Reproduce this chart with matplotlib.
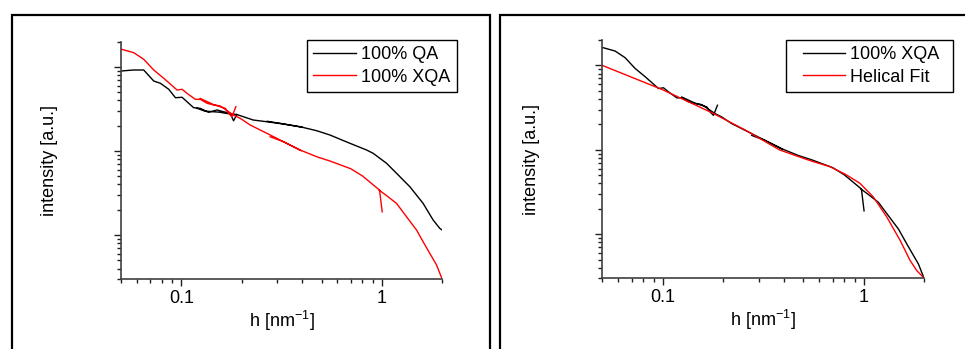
import matplotlib
matplotlib.use("Agg")
import matplotlib.pyplot as plt
from matplotlib import ticker
from matplotlib.patches import Rectangle

plt.rcParams["font.family"] = ["Liberation Sans", "DejaVu Sans"]
plt.rcParams["mathtext.default"] = "regular"
plt.rcParams["font.size"] = 13

GAP = float("nan")

# Scattering curves, stitched from several detector ranges; GAP separates
# the ranges, which overlap a little in h.
qa_h = [0.050, 0.0577, 0.0649, 0.0728, 0.0786, 0.0865, 0.0934, 0.1008,
        0.1151, 0.1243, 0.1363, 0.1505, 0.1618, 0.1753, 0.182, 0.189, GAP,
        0.120, 0.130, 0.142, 0.155, 0.168, 0.189, 0.228, 0.267, 0.322, 0.400, GAP,
        0.268, 0.322, 0.391, 0.473, 0.551, 0.693, 0.839, 0.905, 1.055,
        1.183, 1.378, 1.605, 1.80, 1.944, 1.995]
qa_i = [0.896, 0.921, 0.921, 0.681, 0.640, 0.543, 0.431, 0.436,
        0.328, 0.322, 0.289, 0.308, 0.294, 0.281, 0.229, 0.272, GAP,
        0.322, 0.300, 0.294, 0.290, 0.280, 0.272, 0.234, 0.223, 0.2097, 0.192, GAP,
        0.226, 0.2105, 0.1945, 0.1745, 0.155, 0.1235, 0.1028, 0.0938, 0.0714,
        0.0543, 0.0376, 0.0238, 0.0151, 0.0120, 0.0115]

xqa_h = [0.0503, 0.0579, 0.0649, 0.0728, 0.0817, 0.0952, 0.1008, 0.1067,
         0.1174, 0.1243, 0.1342, 0.1505, 0.1656, 0.1719, 0.1787, 0.187, GAP,
         0.1243, 0.1342, 0.1448, 0.1563, 0.1688, 0.182, 0.1965, 0.2204,
         0.267, 0.323, 0.395, GAP,
         0.277, 0.323, 0.391, 0.473, 0.551, 0.600, 0.700, 0.800, 0.900,
         0.973, 1.003, GAP,
         0.965, 1.05, 1.183, 1.30, 1.488, 1.62, 1.733, 1.87, 1.995]
xqa_i = [1.625, 1.48, 1.235, 0.921, 0.734, 0.532, 0.543, 0.486,
         0.4125, 0.4125, 0.370, 0.346, 0.322, 0.281, 0.256, 0.337, GAP,
         0.422, 0.388, 0.356, 0.343, 0.303, 0.268, 0.245, 0.204,
         0.1624, 0.129, 0.101, GAP,
         0.148, 0.129, 0.1028, 0.0855, 0.0760, 0.0705, 0.0615, 0.0505, 0.0400,
         0.0343, 0.0189, GAP,
         0.0345, 0.0297, 0.0238, 0.0176, 0.01148, 0.0080, 0.00605, 0.00443, 0.0030]

fit_h = [0.05, 0.0992, 0.1764, 0.259, 0.380, 0.461, 0.558, 0.676, 0.820,
         0.955, 1.113, 1.299, 1.514, 1.698, 1.835, 2.0]
fit_i = [1.0, 0.518, 0.2735, 0.1698, 0.100, 0.0848, 0.0726, 0.0633, 0.0504,
         0.0402, 0.0278, 0.0161, 0.0085, 0.0049, 0.0037, 0.003]

h_ticks = [0.1, 1]
h_tick_labels = ["0.1", "1"]

W, H = 965, 349
RED = "#ff0000"


def fx(px):
    return px / W


def fy(py):
    return 1 - py / H


def style_axis(ax):
    ax.set_xscale("log")
    ax.set_yscale("log")
    ax.set_xlim(0.05, 2)
    ax.set_ylim(0.003, 2)
    for side in ("top", "right"):
        ax.spines[side].set_visible(False)
    for side in ("left", "bottom"):
        ax.spines[side].set_linewidth(1.2)
        ax.spines[side].set_color("#404040")
    ax.xaxis.set_major_locator(ticker.FixedLocator(h_ticks))
    ax.xaxis.set_major_formatter(ticker.FixedFormatter(h_tick_labels))
    ax.xaxis.set_minor_locator(ticker.LogLocator(base=10, subs=range(2, 10)))
    ax.xaxis.set_minor_formatter(ticker.NullFormatter())
    ax.yaxis.set_major_locator(ticker.LogLocator(base=10))
    ax.yaxis.set_minor_locator(ticker.LogLocator(base=10, subs=range(2, 10)))
    ax.yaxis.set_major_formatter(ticker.NullFormatter())
    ax.yaxis.set_minor_formatter(ticker.NullFormatter())
    ax.tick_params(which="major", length=5, width=1, direction="out",
                   color="#202020", labelsize=13, pad=3)
    ax.tick_params(which="minor", length=3, width=1, direction="out",
                   color="#202020")
    ax.set_xlabel("h [nm$^{-1}$]", labelpad=1)
    ax.set_ylabel("intensity [a.u.]", labelpad=37)


def add_legend(ax, right_px, top_px, frame_box=None):
    leg = ax.legend(loc="upper right",
                    bbox_to_anchor=(fx(right_px), fy(top_px)),
                    bbox_transform=ax.figure.transFigure,
                    frameon=frame_box is None, fancybox=False, shadow=False,
                    edgecolor="black", framealpha=1, borderaxespad=0,
                    handlelength=2.35, handletextpad=0.3, borderpad=0.35,
                    labelspacing=0.3, fontsize=13)
    leg.get_frame().set_linewidth(1.0)
    if frame_box is not None:
        # wider frame than the legend's own padding would give
        x0, y0, x1, y1 = frame_box
        ax.figure.patches.append(
            Rectangle((fx(x0), fy(y1)), fx(x1) - fx(x0), fy(y0) - fy(y1),
                      transform=ax.figure.transFigure, fill=False,
                      linewidth=1.0, edgecolor="black", zorder=5))
    return leg


fig = plt.figure(figsize=(W / 100, H / 100), dpi=100)

# outer frames around the two panels
for x0, x1 in [(11.7, 490), (500, 990)]:
    fig.patches.append(Rectangle((fx(x0), -0.2), fx(x1) - fx(x0), fy(15) + 0.2,
                                 transform=fig.transFigure, fill=False,
                                 linewidth=1.6, edgecolor="black"))

ax_l = fig.add_axes([fx(121), fy(279), fx(442.3) - fx(121), fy(41.7) - fy(279)])
ax_r = fig.add_axes([fx(602.3), fy(278.3), fx(924.3) - fx(602.3), fy(40) - fy(278.3)])

ax_l.plot(qa_h, qa_i, color="black", lw=1.0, label="100% QA")
ax_l.plot(xqa_h, xqa_i, color=RED, lw=1.0, label="100% XQA")
style_axis(ax_l)
add_legend(ax_l, 456.7, 40)

ax_r.plot(xqa_h, xqa_i, color="black", lw=1.0, label="100% XQA")
ax_r.plot(fit_h, fit_i, color=RED, lw=1.0, label="Helical Fit")
style_axis(ax_r)
add_legend(ax_r, 946, 40, frame_box=(785.7, 40, 953.3, 92.3))

fig.savefig("out.png", dpi=100)
